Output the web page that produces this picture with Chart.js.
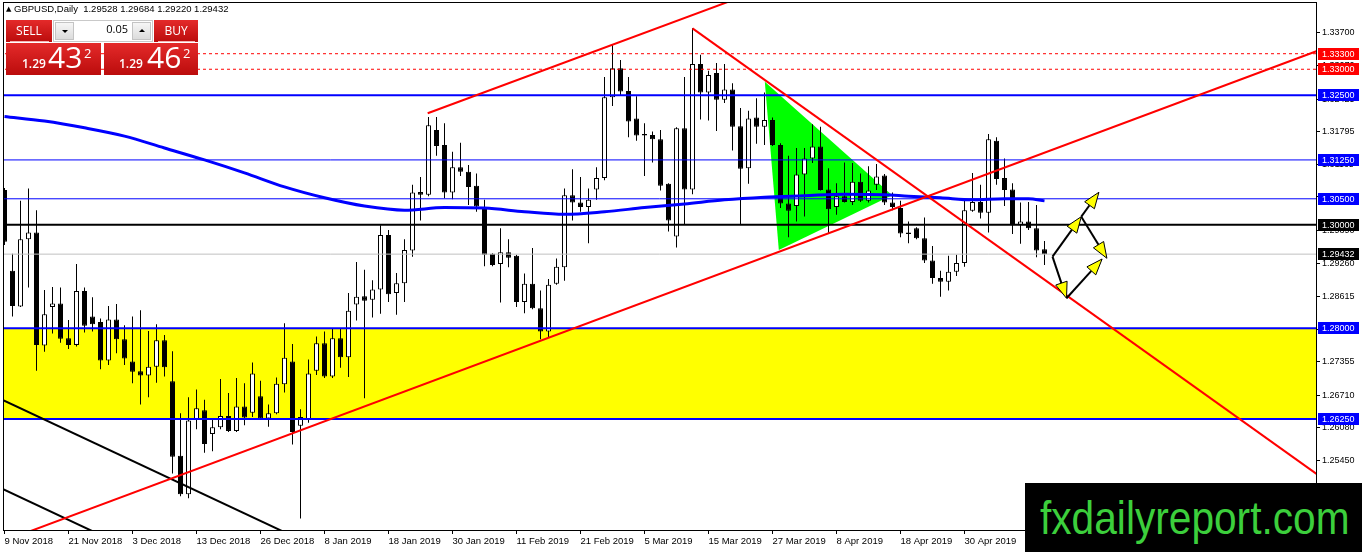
<!DOCTYPE html>
<html>
<head>
<meta charset="utf-8">
<title>GBPUSD, Daily</title>
<script src="https://cdn.jsdelivr.net/npm/chart.js@4.4.1/dist/chart.umd.min.js"></script>
<style>
    html, body { margin: 0; padding: 0; background: #fff; }
    #wrap { position: relative; width: 1362px; height: 552px; overflow: hidden; }
    #chartBox { position: absolute; left: 0; top: 0; width: 1362px; height: 552px; }
    .hdr { position: absolute; left: 6px; top: 3px; font: 9.5px "Liberation Sans", Arial, sans-serif; color: #000; white-space: pre; }
    .hdr .tri { font: 7px "DejaVu Sans", sans-serif; position: relative; top: -1px; }
    .red { position: absolute; background: linear-gradient(#e42a2a, #bb0c0c); color: #fff; font-family: "Open Sans", sans-serif; }
    .btn { top: 20px; height: 22px; font-size: 12px; line-height: 22px; text-align: center; }
    .btn i { position: absolute; left: 4px; right: 3px; bottom: 0; height: 1px; background: #f3b4b4; }
    .spin { position: absolute; left: 53px; top: 20px; width: 100px; height: 22px; background: #fff; border: 1px solid #c9c9c9; box-sizing: border-box; }
    .spin .b { position: absolute; top: 1px; width: 19px; height: 18px; background: linear-gradient(#f6f6f6, #dcdcdc); border: 1px solid #c4c4c4; box-sizing: border-box; }
    .spin .b i { position: absolute; left: 6px; width: 0; height: 0; border-left: 3px solid transparent; border-right: 3px solid transparent; }
    .spin .dn i { top: 7px; border-top: 3px solid #000; }
    .spin .up i { top: 6px; border-bottom: 3px solid #000; }
    .spin .val { position: absolute; right: 24px; top: 0; line-height: 20px; font: 11px "Open Sans", sans-serif; color: #000; }
    .px { top: 43px; height: 32px; }
    .px span { position: absolute; line-height: 1; white-space: nowrap; }
    .px .s { font-size: 12px; font-weight: 600; top: 15px; }
    .px .l { font-size: 30px; top: -1px; }
    .px .e { font-size: 13px; top: 4px; }
    .mark { position: absolute; left: 1025px; top: 483px; width: 337px; height: 69px; background: #000; overflow: hidden; }
    .mark span { position: absolute; left: 15px; top: 11px; font: 47px/47px "Liberation Sans", Arial, sans-serif; color: #3ccf3c; transform: scaleX(0.865); transform-origin: 0 0; white-space: nowrap; }
</style>
</head>
<body>
<div id="wrap">
    <div id="chartBox"><canvas id="chart"></canvas></div>

    <div class="hdr"><span class="tri">▲</span> GBPUSD,Daily  1.29528 1.29684 1.29220 1.29432</div>

    <div class="red btn" style="left:6px;width:46px;">SELL<i></i></div>
    <div class="spin">
        <div class="b dn" style="left:1px;"><i></i></div>
        <div class="val">0.05</div>
        <div class="b up" style="right:1px;"><i></i></div>
    </div>
    <div class="red btn" style="left:154px;width:44px;">BUY<i></i></div>

    <div class="red px" style="left:6px;width:95px;">
        <span class="s" style="left:16px;">1.29</span><span class="l" style="left:42px;">43</span><span class="e" style="left:78px;">2</span>
    </div>
    <div class="red px" style="left:104px;width:94px;">
        <span class="s" style="left:15px;">1.29</span><span class="l" style="left:43px;">46</span><span class="e" style="left:79px;">2</span>
    </div>

    <div class="mark"><span>fxdailyreport.com</span></div>
</div>

<script>
// daily bars, 9 Nov 2018 .. 14 May 2019 (index = bar number)
const barOpen = [
    1.3067, 1.2911, 1.2842, 1.2972, 1.2985, 1.2767, 1.2841, 1.2848, 1.2781, 1.2768,
    1.2872, 1.2823, 1.2812, 1.2738, 1.2817, 1.2779, 1.2736, 1.2717, 1.2709, 1.2726,
    1.2777, 1.2698, 1.2554, 1.2480, 1.2624, 1.2642, 1.2596, 1.2609, 1.2631, 1.2602,
    1.2649, 1.2637, 1.2669, 1.2626, 1.2636, 1.2692, 1.2736, 1.2612, 1.2625, 1.2718,
    1.2771, 1.2707, 1.2781, 1.2744, 1.2846, 1.2862, 1.2855, 1.2875, 1.2980, 1.2868,
    1.2887, 1.2950, 1.3063, 1.3058, 1.3183, 1.3154, 1.3062, 1.3111, 1.3102, 1.3075,
    1.3034, 1.2944, 1.2924, 1.2947, 1.2940, 1.2851, 1.2886, 1.2839, 1.2794, 1.2886,
    1.2918, 1.3057, 1.3043, 1.3034, 1.3068, 1.3090, 1.3246, 1.3302, 1.3258, 1.3205,
    1.3175, 1.3173, 1.3165, 1.3079, 1.2977, 1.3186, 1.3068, 1.3310, 1.3255, 1.3293,
    1.3241, 1.3261, 1.3190, 1.3109, 1.3207, 1.3189, 1.3202, 1.3154, 1.3041, 1.3036,
    1.3097, 1.3128, 1.3151, 1.3068, 1.3034, 1.3055, 1.3044, 1.3083, 1.3046, 1.3077,
    1.3095, 1.3043, 1.3032, 1.2985, 1.2993, 1.2974, 1.2931, 1.2897, 1.2890, 1.2909,
    1.2926, 1.3027, 1.3044, 1.3023, 1.3162, 1.3090, 1.3068, 1.2999, 1.3006, 1.2993,
    1.29528
];
const barHigh = [
    1.3071, 1.2944, 1.3046, 1.3070, 1.3028, 1.2874, 1.2880, 1.2879, 1.2816, 1.2924,
    1.2879, 1.2860, 1.2819, 1.2843, 1.2847, 1.2806, 1.2823, 1.2835, 1.2795, 1.2808,
    1.2787, 1.2756, 1.2636, 1.2667, 1.2682, 1.2662, 1.2625, 1.2702, 1.2675, 1.2704,
    1.2694, 1.2734, 1.2699, 1.2653, 1.2705, 1.2810, 1.2770, 1.2644, 1.2740, 1.2784,
    1.2794, 1.2799, 1.2799, 1.2868, 1.2928, 1.2913, 1.2893, 1.2999, 1.2990, 1.2907,
    1.2972, 1.3077, 1.3092, 1.3208, 1.3208, 1.3196, 1.3141, 1.3158, 1.3115, 1.3099,
    1.3048, 1.2945, 1.2993, 1.2972, 1.2942, 1.2906, 1.2955, 1.2873, 1.2895, 1.2935,
    1.3070, 1.3107, 1.3092, 1.3070, 1.3111, 1.3285, 1.3347, 1.3318, 1.3285, 1.3248,
    1.3196, 1.3180, 1.3183, 1.3080, 1.3188, 1.3285, 1.3379, 1.3328, 1.3297, 1.3312,
    1.3310, 1.3273, 1.3225, 1.3220, 1.3244, 1.3255, 1.3207, 1.3157, 1.3133, 1.3148,
    1.3148, 1.3194, 1.3189, 1.3109, 1.3080, 1.3120, 1.3119, 1.3099, 1.3113, 1.3117,
    1.3098, 1.3062, 1.3046, 1.3006, 1.2995, 1.3014, 1.2959, 1.2911, 1.2940, 1.2942,
    1.3046, 1.3100, 1.3077, 1.3175, 1.3169, 1.3128, 1.3080, 1.3043, 1.3044, 1.3038,
    1.29684
];
const barLow = [
    1.2961, 1.2823, 1.2841, 1.2879, 1.2718, 1.2755, 1.2790, 1.2772, 1.2760, 1.2765,
    1.2792, 1.2794, 1.2721, 1.2729, 1.2752, 1.2729, 1.2694, 1.2653, 1.2667, 1.2695,
    1.2707, 1.2520, 1.2476, 1.2472, 1.2605, 1.2560, 1.2563, 1.2605, 1.2600, 1.2600,
    1.2613, 1.2629, 1.2624, 1.2610, 1.2634, 1.2676, 1.2576, 1.2433, 1.2618, 1.2710,
    1.2704, 1.2704, 1.2724, 1.2706, 1.2815, 1.2665, 1.2821, 1.2828, 1.2851, 1.2826,
    1.2851, 1.2938, 1.3008, 1.3055, 1.3133, 1.3051, 1.3049, 1.3094, 1.3038, 1.3025,
    1.2920, 1.2920, 1.2850, 1.2918, 1.2841, 1.2829, 1.2837, 1.2779, 1.2783, 1.2884,
    1.2892, 1.3008, 1.3025, 1.2964, 1.3048, 1.3086, 1.3229, 1.3250, 1.3169, 1.3162,
    1.3094, 1.3120, 1.3066, 1.2987, 1.2956, 1.3001, 1.3059, 1.3203, 1.3201, 1.3181,
    1.3235, 1.3143, 1.3001, 1.3079, 1.3156, 1.3154, 1.3152, 1.3032, 1.2976, 1.3006,
    1.3016, 1.3119, 1.3066, 1.2983, 1.3019, 1.3043, 1.3038, 1.3044, 1.3043, 1.3067,
    1.3038, 1.3028, 1.2976, 1.2964, 1.2972, 1.2926, 1.2886, 1.2861, 1.2873, 1.2901,
    1.2919, 1.3025, 1.3012, 1.2985, 1.3077, 1.3036, 1.2982, 1.2963, 1.2990, 1.2937,
    1.29220
];
const barClose = [
    1.2967, 1.2843, 1.2972, 1.2985, 1.2768, 1.2827, 1.2848, 1.2780, 1.2768, 1.2872,
    1.2805, 1.2808, 1.2738, 1.2817, 1.2779, 1.2742, 1.2716, 1.2709, 1.2726, 1.2777,
    1.2725, 1.2552, 1.2480, 1.2622, 1.2646, 1.2577, 1.2609, 1.2631, 1.2602, 1.2649,
    1.2628, 1.2713, 1.2626, 1.2636, 1.2693, 1.2743, 1.2600, 1.2629, 1.2713, 1.2771,
    1.2707, 1.2781, 1.2744, 1.2834, 1.2861, 1.2853, 1.2875, 1.2980, 1.2866, 1.2887,
    1.2951, 1.3062, 1.3058, 1.3192, 1.3152, 1.3062, 1.3111, 1.3102, 1.3073, 1.3035,
    1.2942, 1.2922, 1.2947, 1.2936, 1.2851, 1.2886, 1.2839, 1.2794, 1.2884, 1.2919,
    1.3057, 1.3043, 1.3034, 1.3048, 1.3090, 1.3246, 1.3302, 1.3257, 1.3199, 1.3172,
    1.3172, 1.3165, 1.3075, 1.3008, 1.3186, 1.3068, 1.3310, 1.3255, 1.3289, 1.3241,
    1.3261, 1.3189, 1.3108, 1.3205, 1.3189, 1.3202, 1.3154, 1.3041, 1.3027, 1.3097,
    1.3128, 1.3151, 1.3067, 1.3030, 1.3055, 1.3044, 1.3083, 1.3046, 1.3066, 1.3093,
    1.3043, 1.3034, 1.2983, 1.2982, 1.2974, 1.2931, 1.2897, 1.2890, 1.2909, 1.2926,
    1.3028, 1.3044, 1.3023, 1.3165, 1.3088, 1.3067, 1.2999, 1.3006, 1.2993, 1.2950,
    1.29432
];

// one date label every 8 bars
const dateLabels = [
    '9 Nov 2018', '21 Nov 2018', '3 Dec 2018', '13 Dec 2018', '26 Dec 2018', '8 Jan 2019',
    '18 Jan 2019', '30 Jan 2019', '11 Feb 2019', '21 Feb 2019', '5 Mar 2019', '15 Mar 2019',
    '27 Mar 2019', '8 Apr 2019', '18 Apr 2019', '30 Apr 2019'
];
const labelEvery = 8;

const priceTicks = [
    1.33700, 1.33070, 1.32425, 1.31795, 1.31165, 1.30535, 1.29890, 1.29260,
    1.28615, 1.27985, 1.27355, 1.26710, 1.26080, 1.25450, 1.24805
];
const priceMin = 1.24108;
const priceMax = 1.34298;

// horizontal levels (1.29432 is the bid line)
const levelPrices = [1.3330, 1.3300, 1.3250, 1.3125, 1.3050, 1.3000, 1.29432, 1.2800, 1.2625];
const zonePrices = [1.2625, 1.2800];

// moving average, read every few bars
const maBars = [0, 5, 10, 15, 20, 25, 30, 35, 40, 45, 50, 55, 60, 65, 70, 75, 80, 85, 90, 95,
    100, 105, 110, 113, 117, 121, 125, 128, 130];
const maValues = [1.3209, 1.3200, 1.3187, 1.3171, 1.3148, 1.3125, 1.3100, 1.3073, 1.3052, 1.3036,
    1.3028, 1.3033, 1.3032, 1.3025, 1.3020, 1.3025, 1.3033, 1.3040, 1.3048, 1.3053,
    1.3056, 1.3059, 1.3058, 1.3055, 1.3052, 1.3048, 1.3050, 1.3050, 1.3046];

// drawn objects, [bar, price] pairs
const redLines = [
    [[0, 1.2390], [164, 1.3335]],
    [[52.9, 1.3215], [92, 1.3439]],
    [[86, 1.3379], [164, 1.2519]]
];
const blackLines = [
    [[-3, 1.2682], [39.5, 1.2374]],
    [[-3, 1.2510], [18.25, 1.2356]]
];
const trianglePoints = [[95.04, 1.3276], [96.79, 1.2951], [110.96, 1.3057]];
const arrowPaths = [
    [[131, 1.29383], [134.6, 1.30155]],
    [[134.6, 1.30155], [136.8, 1.30626]],
    [[134.6, 1.30155], [137.8, 1.29352]],
    [[131, 1.29383], [132.75, 1.28580]],
    [[132.75, 1.28580], [137.2, 1.29338]]
];

// ---- styles ----
const levelStyles = [
    { color: '#ff0000', width: 1, dash: [3, 3] },
    { color: '#ff0000', width: 1, dash: [3, 3] },
    { color: '#0000ff', width: 2, dash: [] },
    { color: '#0000ff', width: 1, dash: [] },
    { color: '#0000ff', width: 1, dash: [] },
    { color: '#000000', width: 2, dash: [] },
    { color: '#c0c0c0', width: 1, dash: [] },
    { color: '#0000ff', width: 2, dash: [] },
    { color: '#0000ff', width: 2, dash: [] }
];
const levelBoxColors = ['#ff0000', '#ff0000', '#0000ff', '#0000ff', '#0000ff', '#000000', '#000000', '#0000ff', '#0000ff'];

document.addEventListener('DOMContentLoaded', () => {
    const bars = barOpen.map((o, i) => i);
    const tickBars = dateLabels.map((d, k) => k * labelEvery);
    const xMin = -0.1875;
    const xMax = 163.9375;

    const toPoints = pairs => pairs.map(p => ({ x: p[0], y: p[1] }));
    const lineSet = (pairs, color, width, order) => ({
        type: 'line',
        data: toPoints(pairs),
        borderColor: color,
        borderWidth: width,
        pointRadius: 0,
        tension: 0,
        fill: false,
        clip: 0,
        order: order
    });

    const datasets = [];

    // yellow zone
    datasets.push({
        type: 'line',
        data: [{ x: xMin - 2, y: zonePrices[1] }, { x: xMax + 2, y: zonePrices[1] }],
        borderWidth: 0,
        borderColor: 'rgba(0,0,0,0)',
        backgroundColor: '#ffff00',
        fill: { value: zonePrices[0] },
        pointRadius: 0,
        clip: 0,
        order: 10
    });

    // green triangle
    datasets.push({
        type: 'line',
        data: toPoints(trianglePoints.concat([trianglePoints[0]])),
        borderWidth: 0,
        borderColor: 'rgba(0,0,0,0)',
        backgroundColor: '#00ff00',
        fill: 'shape',
        pointRadius: 0,
        tension: 0,
        clip: 0,
        order: 9
    });

    // wicks
    datasets.push({
        type: 'bar',
        data: bars.map(i => ({ x: i, y: [barLow[i], barHigh[i]] })),
        backgroundColor: '#000000',
        borderWidth: 0,
        barThickness: 1,
        grouped: false,
        inflateAmount: 0,
        order: 4
    });

    // bodies
    datasets.push({
        type: 'bar',
        data: bars.map(i => ({ x: i, y: [barOpen[i], barClose[i]] })),
        backgroundColor: bars.map(i => barClose[i] >= barOpen[i] ? '#ffffff' : '#000000'),
        borderColor: '#000000',
        borderWidth: 1,
        borderSkipped: false,
        barThickness: 5,
        grouped: false,
        inflateAmount: 0,
        order: 3
    });

    // horizontal levels
    levelPrices.forEach((lvl, k) => {
        const st = levelStyles[k];
        const ds = lineSet([[xMin - 2, lvl], [xMax + 2, lvl]], st.color, st.width, 2);
        ds.borderDash = st.dash;
        datasets.push(ds);
    });

    // moving average
    datasets.push({
        type: 'line',
        data: maBars.map((b, k) => ({ x: b, y: maValues[k] })),
        borderColor: '#0000ff',
        borderWidth: 3,
        pointRadius: 0,
        cubicInterpolationMode: 'monotone',
        fill: false,
        clip: 0,
        order: 1
    });

    redLines.forEach(l => datasets.push(lineSet(l, '#ff0000', 2, 0)));
    blackLines.forEach(l => datasets.push(lineSet(l, '#000000', 2, 0)));

    /**
     * Arrows with yellow heads, anchored in bar/price space.
     */
    const arrowPlugin = {
        id: 'arrows',
        afterDatasetsDraw(chart) {
            const { ctx, scales: { x, y } } = chart;
            ctx.save();
            arrowPaths.forEach(path => {
                const x0 = x.getPixelForValue(path[0][0]);
                const y0 = y.getPixelForValue(path[0][1]);
                const x1 = x.getPixelForValue(path[1][0]);
                const y1 = y.getPixelForValue(path[1][1]);
                const len = Math.hypot(x1 - x0, y1 - y0);
                const ux = (x1 - x0) / len;
                const uy = (y1 - y0) / len;
                const bx = x1 - ux * 16;
                const by = y1 - uy * 16;

                ctx.strokeStyle = '#000';
                ctx.lineWidth = 2;
                ctx.beginPath();
                ctx.moveTo(x0, y0);
                ctx.lineTo(bx, by);
                ctx.stroke();

                ctx.beginPath();
                ctx.moveTo(x1, y1);
                ctx.lineTo(bx - uy * 6, by + ux * 6);
                ctx.lineTo(bx + uy * 6, by - ux * 6);
                ctx.closePath();
                ctx.fillStyle = '#ffff00';
                ctx.fill();
                ctx.lineWidth = 1;
                ctx.stroke();
            });
            ctx.restore();
        }
    };

    /**
     * Frame round the plot and the coloured price boxes on the right axis.
     */
    const framePlugin = {
        id: 'frame',
        afterDraw(chart) {
            const { ctx, chartArea: a, scales: { y } } = chart;
            ctx.save();
            ctx.strokeStyle = '#000';
            ctx.lineWidth = 1;
            ctx.strokeRect(a.left + 0.5, a.top + 0.5, a.right - a.left, a.bottom - a.top);

            ctx.font = '9px "Liberation Sans", Arial, sans-serif';
            ctx.textBaseline = 'middle';
            ctx.textAlign = 'left';
            levelPrices.forEach((lvl, k) => {
                const py = Math.round(y.getPixelForValue(lvl));
                ctx.fillStyle = levelBoxColors[k];
                ctx.fillRect(a.right + 2, py - 6, 41, 12);
                ctx.fillStyle = '#ffffff';
                ctx.fillText(lvl.toFixed(5), a.right + 6, py + 0.5);
            });
            ctx.restore();
        }
    };

    const ctx = document.getElementById('chart').getContext('2d');
    new Chart(ctx, {
        type: 'bar',
        data: { datasets: datasets },
        options: {
            responsive: true,
            maintainAspectRatio: false,
            animation: false,
            events: [],
            layout: { padding: { left: 3, top: 2, right: 0, bottom: 0 } },
            plugins: {
                legend: { display: false },
                tooltip: { enabled: false }
            },
            scales: {
                x: {
                    type: 'linear',
                    position: 'bottom',
                    min: xMin,
                    max: xMax,
                    bounds: 'data',
                    offset: false,
                    afterBuildTicks: s => { s.ticks = tickBars.map(v => ({ value: v })); },
                    afterFit: s => {
                        s.height = 22;
                        s.paddingLeft = 0; s.paddingRight = 0; s.paddingTop = 0; s.paddingBottom = 0;
                    },
                    grid: { drawOnChartArea: false, drawTicks: true, tickLength: 4, color: '#000', offset: false },
                    border: { display: true, color: '#000' },
                    ticks: {
                        align: 'start',
                        maxRotation: 0,
                        autoSkip: false,
                        padding: 2,
                        color: '#000',
                        font: { family: 'Liberation Sans', size: 9.5 },
                        callback: v => dateLabels[tickBars.indexOf(v)] || ''
                    }
                },
                y: {
                    type: 'linear',
                    position: 'right',
                    min: priceMin,
                    max: priceMax,
                    bounds: 'data',
                    afterBuildTicks: s => { s.ticks = priceTicks.map(v => ({ value: v })); },
                    afterFit: s => {
                        s.width = 46;
                        s.paddingLeft = 0; s.paddingRight = 0; s.paddingTop = 0; s.paddingBottom = 0;
                    },
                    grid: { drawOnChartArea: false, drawTicks: true, tickLength: 4, color: '#000' },
                    border: { display: true, color: '#000' },
                    ticks: {
                        autoSkip: false,
                        padding: 2,
                        color: '#000',
                        font: { family: 'Liberation Sans', size: 9 },
                        callback: v => v.toFixed(5)
                    }
                }
            }
        },
        plugins: [arrowPlugin, framePlugin]
    });
});
</script>
</body>
</html>
